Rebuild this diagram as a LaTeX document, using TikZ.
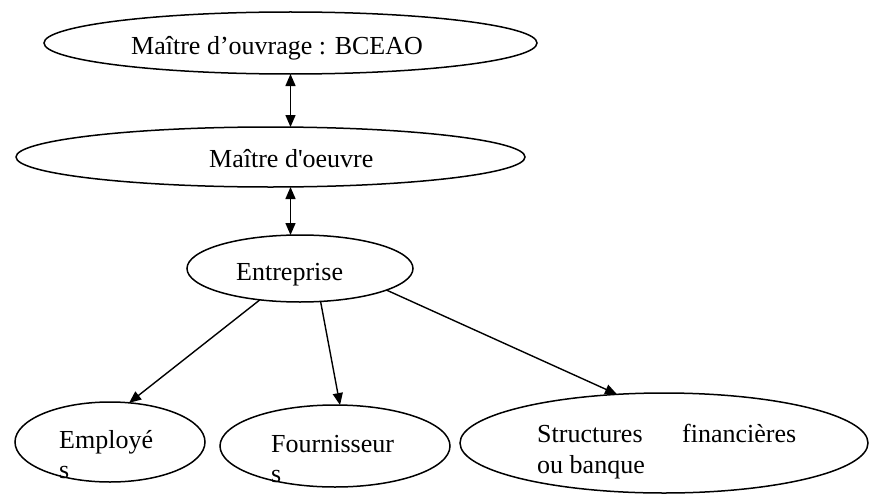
\documentclass[tikz,border=0pt]{standalone}
\usepackage{fontspec}
\setmainfont{Liberation Serif}
\usetikzlibrary{arrows.meta,shapes.geometric}
\begin{document}
\begin{tikzpicture}[x=1pt,y=-1pt,
  ell/.style={draw,ellipse,line width=1.5pt,inner sep=0pt,outer sep=0pt},
  lbl/.style={anchor=base west,inner sep=0pt,font=\fontsize{26}{31}\selectfont},
  conn/.style={line width=1.4pt,-{Triangle[length=12pt,width=10pt]}},
  dconn/.style={line width=1.4pt,{Triangle[length=12pt,width=10pt]}-{Triangle[length=12pt,width=10pt]}}]
\useasboundingbox (0,0) rectangle (869,495);
% ellipses
\node[ell,minimum width=493pt,minimum height=62pt] (mo) at (290.5,43) {};
\node[ell,minimum width=509pt,minimum height=60pt] (moe) at (270.5,157) {};
\node[ell,minimum width=226pt,minimum height=67pt] (ent) at (300,268.5) {};
\node[ell,minimum width=190pt,minimum height=80pt] (emp) at (110,442) {};
\node[ell,minimum width=230pt,minimum height=82pt] (four) at (335,446) {};
\node[ell,minimum width=408pt,minimum height=100pt] (fin) at (664,443) {};
% texts
\node[lbl] (t1) at (131,55) {Maître d’ouvrage : BCEAO};
\node[lbl] (t2) at (209,167) {Maître d\textquotesingle oeuvre};
\node[lbl] (t3) at (236,280) {Entreprise};
\node[lbl] (t4) at (59,448) {Employé};
\node[lbl] (t4b) at (59,478) {s};
\node[lbl] (t5) at (271,452) {Fournisseur};
\node[lbl] (t5b) at (271,482) {s};
\node[lbl] (t6) at (537,442) {Structures};
\node[lbl] (t6b) at (682,442) {financières};
\node[lbl] (t6c) at (537,473) {ou banque};
% connectors
\draw[dconn] (mo.south) -- (mo.south |- moe.north);
\draw[dconn] (mo.south |- moe.south) -- (mo.south |- ent.north);
\draw[conn] (ent.-142) -- (emp.64);
\draw[conn] (ent.-58) -- (four.83);
\draw[conn] (ent.-14.5) -- (fin.134);
\end{tikzpicture}
\end{document}
